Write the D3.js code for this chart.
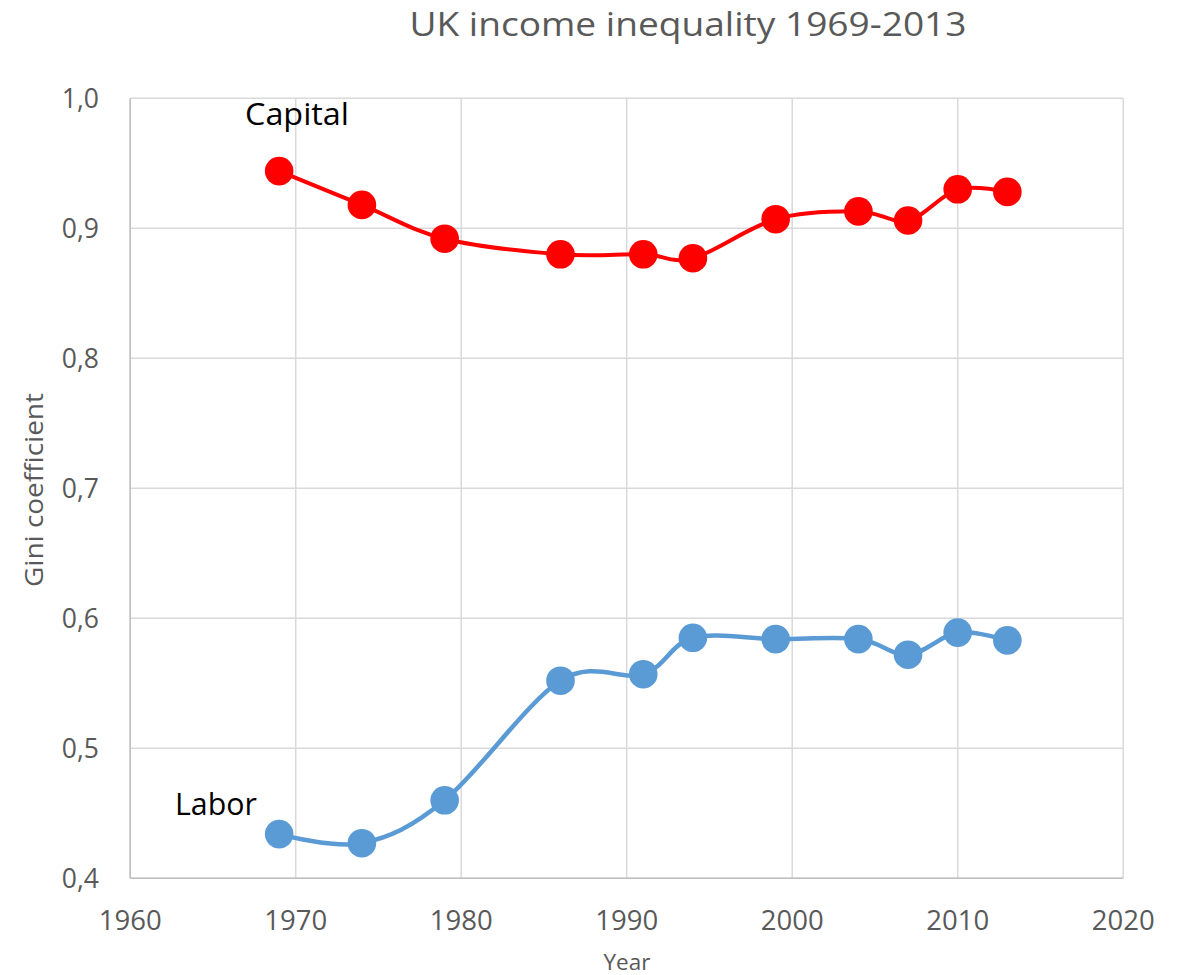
<!DOCTYPE html>
<html>
<head>
<meta charset="utf-8">
<script src="https://cdn.jsdelivr.net/npm/d3@7"></script>
<style>
  html, body { margin: 0; padding: 0; background: #fff; }
  svg { display: block; }
</style>
</head>
<body>
<svg id="chart" width="1186" height="975"></svg>
<script>
const years = [1969, 1974, 1979, 1986, 1991, 1994, 1999, 2004, 2007, 2010, 2013];
const capital = [0.944, 0.918, 0.892, 0.880, 0.880, 0.877, 0.907, 0.913, 0.906, 0.930, 0.928];
const labor = [0.434, 0.427, 0.460, 0.552, 0.557, 0.585, 0.584, 0.584, 0.572, 0.589, 0.583];
const xTicks = [1960, 1970, 1980, 1990, 2000, 2010, 2020];
const yTicks = [0.4, 0.5, 0.6, 0.7, 0.8, 0.9, 1.0];
const titleText = "UK income inequality 1969-2013";
const xTitle = "Year";
const yTitle = "Gini coefficient";
const seriesNames = ["Capital", "Labor"];

const svg = d3.select("#chart");
const pLeft = 130.2, pRight = 1123.2, pTop = 98.3, pBottom = 878.3;
const x = d3.scaleLinear().domain([1960, 2020]).range([pLeft, pRight]);
const y = d3.scaleLinear().domain([0.4, 1.0]).range([pBottom, pTop]);
const fmt = v => d3.format(".1f")(v).replace(".", ",");
const font = "'Open Sans', sans-serif";
const grey = "#595959";

// grid
svg.append("g").selectAll("line").data(yTicks).join("line")
  .attr("x1", pLeft).attr("x2", pRight)
  .attr("y1", d => y(d)).attr("y2", d => y(d))
  .attr("stroke", "#d9d9d9").attr("stroke-width", 1.5);
svg.append("g").selectAll("line").data(xTicks).join("line")
  .attr("y1", pTop).attr("y2", pBottom)
  .attr("x1", d => x(d)).attr("x2", d => x(d))
  .attr("stroke", "#d9d9d9").attr("stroke-width", 1.5);
// axis lines
svg.append("line").attr("x1", pLeft).attr("x2", pLeft).attr("y1", pTop).attr("y2", pBottom)
  .attr("stroke", "#bfbfbf").attr("stroke-width", 1.5);
svg.append("line").attr("x1", pLeft).attr("x2", pRight).attr("y1", pBottom).attr("y2", pBottom)
  .attr("stroke", "#bfbfbf").attr("stroke-width", 1.5);

// tick labels
svg.append("g").selectAll("text").data(yTicks).join("text")
  .attr("x", 99).attr("y", d => y(d) + 9.5)
  .attr("text-anchor", "end")
  .attr("font-family", font).attr("font-size", 26.5).attr("fill", grey)
  .text(fmt);
svg.append("g").selectAll("text").data(xTicks).join("text")
  .attr("x", d => x(d)).attr("y", 930)
  .attr("text-anchor", "middle")
  .attr("font-family", font).attr("font-size", 27.5).attr("fill", grey)
  .text(d => d);

// titles
svg.append("text").attr("x", 688).attr("y", 36).attr("text-anchor", "middle")
  .attr("font-family", font).attr("font-size", 33).attr("fill", grey)
  .attr("textLength", 557).attr("lengthAdjust", "spacingAndGlyphs")
  .text(titleText);
svg.append("text").attr("x", 627).attr("y", 970).attr("text-anchor", "middle")
  .attr("font-family", font).attr("font-size", 21).attr("fill", grey)
  .attr("textLength", 47).attr("lengthAdjust", "spacingAndGlyphs")
  .text(xTitle);
svg.append("text").attr("transform", "translate(43,490) rotate(-90)").attr("text-anchor", "middle")
  .attr("font-family", font).attr("font-size", 26).attr("fill", grey)
  .attr("textLength", 194).attr("lengthAdjust", "spacingAndGlyphs")
  .text(yTitle);

// series
const series = [
  { name: seriesNames[0], values: capital, color: "#ff0000", width: 4, lx: 245, ly: 125, tl: 104 },
  { name: seriesNames[1], values: labor, color: "#5b9bd5", width: 4.5, lx: 175, ly: 815, tl: 82 }
];
const line = d3.line().x(d => x(d[0])).y(d => y(d[1])).curve(d3.curveCardinal.tension(0));
series.forEach(s => {
  const pts = years.map((yr, i) => [yr, s.values[i]]);
  svg.append("path").attr("d", line(pts)).attr("fill", "none")
    .attr("stroke", s.color).attr("stroke-width", s.width)
    .attr("stroke-linejoin", "round").attr("stroke-linecap", "round");
  svg.append("g").selectAll("circle").data(pts).join("circle")
    .attr("cx", d => x(d[0])).attr("cy", d => y(d[1])).attr("r", 14.3)
    .attr("fill", s.color);
  svg.append("text").attr("x", s.lx).attr("y", s.ly)
    .attr("font-family", font).attr("font-size", 31).attr("fill", "#000")
    .attr("textLength", s.tl).attr("lengthAdjust", "spacingAndGlyphs")
    .text(s.name);
});
</script>
</body>
</html>
